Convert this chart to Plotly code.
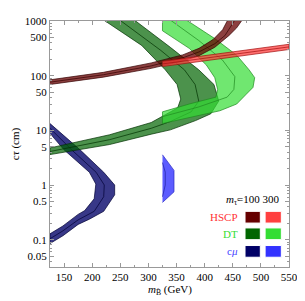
import plotly.graph_objects as go

# ---------------- data: bino mass (GeV) vs c*tau (cm) ----------------
# HSCP, m_stau = 100
hscp100_hi_m = [125, 220, 305, 361, 390, 415, 432, 440, 445]
hscp100_hi_ct = [84, 115, 171, 240, 316, 458, 691, 1000, 1250]
hscp100_lo_m = [125, 220, 305, 361, 390, 418, 443, 457, 469]
hscp100_lo_ct = [69, 94, 136, 185, 232, 330, 540, 750, 1130]
hscp100_mid_m = [125, 220, 305, 361, 390, 418, 436, 446, 455]
hscp100_mid_ct = [76, 104, 151, 212, 272, 384, 540, 759, 1090]

# HSCP, m_stau = 300
hscp300_hi_m = [325, 420, 550]
hscp300_hi_ct = [183, 246, 375]
hscp300_lo_m = [325, 420, 550]
hscp300_lo_ct = [147, 197, 301]
hscp300_mid_m = [325, 420, 550]
hscp300_mid_ct = [164, 220, 336]

# DT, m_stau = 100
dt100_out_m = [275, 339, 389.5, 416.5, 425, 411, 384, 339, 305, 231, 125]
dt100_out_ct = [1042, 330, 128, 69, 34.3, 20.1, 15.1, 10.2, 8.5, 5.5, 3.6]
dt100_in_m = [220.5, 288, 330, 351, 357.5, 352, 330, 305, 231, 125]
dt100_in_ct = [1042, 358, 128, 69, 37.3, 25.7, 19.3, 13.9, 8.3, 4.77]
dt100_mid_m = [249, 322, 364, 383, 389.5, 376, 339, 305, 231, 125]
dt100_mid_ct = [1042, 290, 128, 69, 34.3, 21.8, 14.5, 10.9, 6.75, 4.1]

# DT, m_stau = 300
dt300_out_m = [367.5, 418, 457, 479, 489, 486, 474, 457, 427, 361, 325]
dt300_out_ct = [1042, 477, 237, 128, 92, 61, 45.8, 30.3, 22.8, 16.4, 13.3]
dt300_in_m = [325, 325, 372.6, 403, 418, 423, 420, 372.6, 325]
dt300_in_ct = [1042, 663, 316, 157, 92, 56, 40.5, 30.3, 21.8]
dt300_mid_m = [339, 389.5, 431.7, 453.7, 452, 440, 389.5, 325]
dt300_mid_ct = [1042, 440, 193, 96, 56, 40.5, 26.8, 17.8]

# c-mu, m_stau = 100
cmu100_out_m = [125, 178, 220.5, 240, 240, 220.5, 195, 175, 148, 125]
cmu100_out_ct = [13.3, 4.45, 1.71, 1.0, 0.66, 0.33, 0.237, 0.19, 0.118, 0.085]
cmu100_in_m = [125, 149.5, 195, 206.5, 203.6, 186.7, 175, 148, 125]
cmu100_in_ct = [8.8, 4.45, 1.71, 1.04, 0.56, 0.34, 0.29, 0.178, 0.128]
cmu100_mid_m = [125, 163, 207, 221.5, 220.5, 203.6, 175, 148, 125]
cmu100_mid_ct = [10.9, 4.45, 1.71, 1.0, 0.61, 0.33, 0.23, 0.145, 0.104]

# c-mu, m_stau = 300
cmu300_out_m = [325, 345.5, 345.5, 327, 325]
cmu300_out_ct = [3.57, 1.85, 0.75, 0.50, 0.48]
cmu300_mid_m = [325, 330, 330, 325]
cmu300_mid_ct = [2.57, 1.71, 1.0, 0.61]

y_tickvals = [0.05, 0.1, 0.5, 1, 5, 10, 50, 100, 500, 1000]
y_ticktext = ["0.05", "0.1", "0.5", "1", "5", "10", "50", "100", "500", "1000"]
x_tickvals = [150, 200, 250, 300, 350, 400, 450, 500, 550]

FONT = "Liberation Serif"

fig = go.Figure()


def band(xa, ya, xb, yb, fill, edge):
    fig.add_trace(go.Scatter(
        x=list(xa) + list(xb)[::-1], y=list(ya) + list(yb)[::-1],
        mode="lines", fill="toself", fillcolor=fill,
        line=dict(color=edge, width=0.7), hoverinfo="skip", showlegend=False))


def mid(x, y, edge):
    fig.add_trace(go.Scatter(x=x, y=y, mode="lines",
                             line=dict(color=edge, width=0.7),
                             hoverinfo="skip", showlegend=False))


band(cmu100_out_m, cmu100_out_ct, cmu100_in_m, cmu100_in_ct,
     "rgba(0,0,102,0.78)", "#000033")
mid(cmu100_mid_m, cmu100_mid_ct, "#000033")
fig.add_trace(go.Scatter(x=cmu300_out_m, y=cmu300_out_ct, mode="lines",
                         fill="toself", fillcolor="rgba(51,51,255,0.8)",
                         line=dict(color="#2828c0", width=0.7),
                         hoverinfo="skip", showlegend=False))
mid(cmu300_mid_m, cmu300_mid_ct, "#2020a0")

band(dt100_out_m, dt100_out_ct, dt100_in_m, dt100_in_ct,
     "rgba(0,100,0,0.7)", "#003000")
mid(dt100_mid_m, dt100_mid_ct, "#003000")
band(dt300_out_m, dt300_out_ct, dt300_in_m, dt300_in_ct,
     "rgba(51,221,51,0.7)", "#1f8a1f")
mid(dt300_mid_m, dt300_mid_ct, "#1f8a1f")

band(hscp100_hi_m, hscp100_hi_ct, hscp100_lo_m, hscp100_lo_ct,
     "rgba(102,0,0,0.75)", "#330000")
mid(hscp100_mid_m, hscp100_mid_ct, "#330000")
band(hscp300_hi_m, hscp300_hi_ct, hscp300_lo_m, hscp300_lo_ct,
     "rgba(255,64,64,0.75)", "#a01010")
mid(hscp300_mid_m, hscp300_mid_ct, "#a01010")

# page layout (browser body has an 8px default margin)
OFF = 8
PAGE_W, PAGE_H = 305, 301
X0, X1, Y0, Y1 = 44, 294, 15, 267          # plot frame in page pixels
W, H = PAGE_W - OFF, PAGE_H - OFF
L, T = X0 - OFF, Y0 - OFF
R, B = PAGE_W - X1, PAGE_H - Y1
pw, ph = X1 - X0, Y1 - Y0


def px(x):
    return (x - X0) / pw


def py(y):
    return (Y1 - y) / ph


shapes = []
ann = []
rows = [("HSCP", "#ff3333", "#660000", "#ff4040", 216),
        ("DT", "#33dd33", "#006600", "#33dd33", 233),
        ("c<i>μ</i>", "#4444ff", "#000066", "#3333ff", 251)]
for label, tc, dark, light, yc in rows:
    ann.append(dict(x=px(243), y=py(yc), xref="paper", yref="paper",
                    text=label, showarrow=False, xanchor="right",
                    yanchor="middle",
                    font=dict(family=FONT, size=11, color=tc)))
    shapes.append(dict(type="rect", xref="paper", yref="paper",
                       x0=px(248), x1=px(264), y0=py(yc + 6), y1=py(yc - 6),
                       fillcolor=dark, line=dict(color="white", width=1)))
    shapes.append(dict(type="rect", xref="paper", yref="paper",
                       x0=px(269), x1=px(286), y0=py(yc + 6), y1=py(yc - 6),
                       fillcolor=light, line=dict(color="white", width=1)))
ann.append(dict(x=px(256), y=py(198), xref="paper", yref="paper",
                text="<i>m</i><sub>τ̃</sub>=100 300", showarrow=False,
                xanchor="center", yanchor="middle",
                font=dict(family=FONT, size=11, color="black")))
# x-axis title
ann.append(dict(x=px(169), y=py(291), xref="paper", yref="paper",
                text="<i>m</i><sub>B̃</sub> (GeV)", showarrow=False,
                xanchor="center", yanchor="middle",
                font=dict(family=FONT, size=11, color="black")))

axis_common = dict(showgrid=False, zeroline=False, showline=True,
                   linecolor="#999999", linewidth=1, mirror="allticks",
                   ticks="inside", ticklen=4, tickcolor="#999999",
                   tickfont=dict(family=FONT, size=11, color="black"))

minor_y = [k * 10 ** e for e in range(-2, 4) for k in range(2, 10)]
fig.update_layout(
    width=W, height=H, margin=dict(l=L, r=R, t=T, b=B),
    plot_bgcolor="white", paper_bgcolor="white",
    xaxis=dict(range=[125, 550], tickmode="array", tickvals=x_tickvals,
               minor=dict(tickmode="linear", tick0=125, dtick=25,
                          ticks="inside", ticklen=2, tickcolor="#999999"),
               **axis_common),
    yaxis=dict(type="log", range=[-1.5, 3], tickmode="array",
               tickvals=y_tickvals, ticktext=y_ticktext,
               minor=dict(tickmode="array", tickvals=minor_y,
                          ticks="inside", ticklen=2, tickcolor="#999999"),
               title=dict(text="c<i>τ</i> (cm)", standoff=2,
                          font=dict(family=FONT, size=11, color="black")),
               **axis_common),
    shapes=shapes, annotations=ann,
)

fig.write_html("out.html")
